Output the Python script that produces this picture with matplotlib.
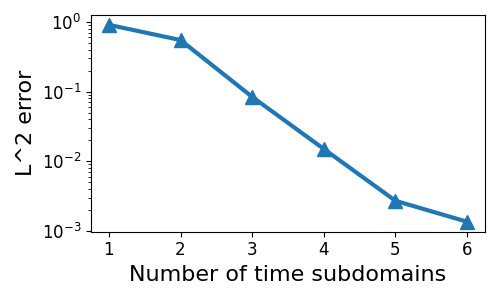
import numpy as np
import matplotlib
matplotlib.use("Agg")
import matplotlib.pyplot as plt

#--- Data ---
subdomains = [1, 2, 3, 4, 5, 6]
l2_error = [0.91, 0.55, 0.084, 0.015, 0.0027, 0.00135]

#--- Figure ---
fig, ax = plt.subplots(figsize=(5, 3), dpi=100)
ax.semilogy(subdomains, l2_error, marker='^', markersize=10, linewidth=3, color='#1f77b4')
ax.set_xlabel("Number of time subdomains", fontsize=16)
ax.set_ylabel("L^2 error", fontsize=16)
ax.tick_params(axis='both', labelsize=12)
ax.set_xticks(subdomains)
fig.subplots_adjust(left=0.182, right=0.97, top=0.95, bottom=0.228)
fig.savefig("out.png")
